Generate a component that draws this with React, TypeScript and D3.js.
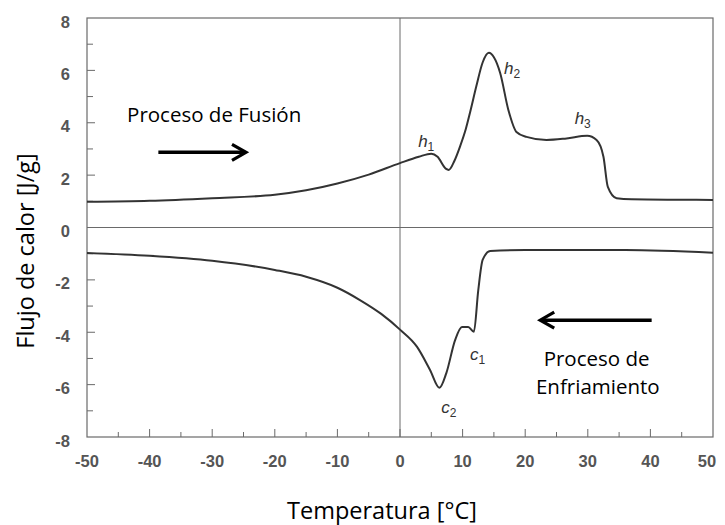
import { useRef, useEffect } from 'react';
import * as d3 from 'd3';

const W = 725;
const H = 525;
const MARGIN = { top: 18, right: 12, bottom: 88, left: 87 };

// Heating (fusion) curve
const heatT = [-50, -40, -30, -20, -15, -10, -5, 0, 3, 5, 6, 7.3, 7.8, 8.7, 9.6, 10.5, 11.2, 12.2, 13.2, 14.2, 15, 16, 17.3, 18.6, 20.2, 23.4, 26.6, 29.9, 31.4, 32.5, 33.2, 34.6, 37, 45, 50];
const heatQ = [0.98, 1.02, 1.12, 1.25, 1.42, 1.68, 2.02, 2.46, 2.7, 2.82, 2.7, 2.25, 2.2, 2.55, 3.1, 3.75, 4.4, 5.4, 6.3, 6.67, 6.5, 5.9, 4.5, 3.65, 3.46, 3.34, 3.4, 3.5, 3.34, 2.7, 1.55, 1.12, 1.08, 1.06, 1.05];

// Cooling curve
const coolT = [-50, -40, -30, -20, -15, -10, -6.4, -3, 0, 2.7, 4.8, 6.3, 7.4, 8.8, 9.9, 10.9, 11.8, 12.5, 13.2, 14.4, 20, 36, 50];
const coolQ = [-0.97, -1.08, -1.27, -1.62, -1.88, -2.3, -2.77, -3.3, -3.9, -4.55, -5.44, -6.12, -5.56, -4.3, -3.8, -3.8, -3.98, -2.4, -1.24, -0.9, -0.86, -0.86, -0.96];

const xTicks = [-50, -40, -30, -20, -10, 0, 10, 20, 30, 40, 50];
const yTicks = [-8, -6, -4, -2, 0, 2, 4, 6, 8];

// peak labels: [letter, subscript, T, Q]
const peakLabels: [string, string, number, number][] = [
  ['h', '1', 2.9, 3.07],
  ['h', '2', 16.6, 5.85],
  ['h', '3', 27.9, 3.95],
  ['c', '1', 11.2, -5.05],
  ['c', '2', 6.6, -7.1],
];

export default function App() {
  const svgRef = useRef<SVGSVGElement>(null);

  useEffect(() => {
    const svg = d3.select(svgRef.current);
    svg.selectAll('*').remove();

    const w = W - MARGIN.left - MARGIN.right;
    const h = H - MARGIN.top - MARGIN.bottom;
    const g = svg.append('g').attr('transform', `translate(${MARGIN.left},${MARGIN.top})`);

    const x = d3.scaleLinear().domain([-50, 50]).range([0, w]);
    const y = d3.scaleLinear().domain([-8, 8]).range([h, 0]);

    const frame = '#6a6a6a';

    // frame
    g.append('rect').attr('width', w).attr('height', h)
      .attr('fill', 'none').attr('stroke', frame).attr('stroke-width', 1.2);

    // zero lines
    g.append('line').attr('x1', 0).attr('x2', w).attr('y1', y(0)).attr('y2', y(0))
      .attr('stroke', frame).attr('stroke-width', 1);
    g.append('line').attr('x1', x(0)).attr('x2', x(0)).attr('y1', 0).attr('y2', h)
      .attr('stroke', frame).attr('stroke-width', 1);

    // inner ticks: left and bottom
    d3.range(-7, 8).forEach(v => {
      const major = v % 2 === 0;
      g.append('line').attr('x1', 0).attr('x2', major ? 8 : 6)
        .attr('y1', y(v)).attr('y2', y(v)).attr('stroke', frame).attr('stroke-width', 1);
    });
    d3.range(-45, 50, 5).forEach(v => {
      const major = v % 10 === 0;
      g.append('line').attr('x1', x(v)).attr('x2', x(v))
        .attr('y1', h).attr('y2', h - (major ? 8 : 5)).attr('stroke', frame).attr('stroke-width', 1);
    });

    // tick labels
    const tickFont = "'Liberation Sans', Arial, sans-serif";
    g.selectAll('.ylab').data(yTicks).join('text')
      .attr('x', -17).attr('y', d => y(d) + 9.5)
      .attr('text-anchor', 'end')
      .attr('font-family', tickFont).attr('font-size', 16.5).attr('font-weight', 'bold')
      .attr('fill', '#555')
      .text(d => d);
    g.selectAll('.xlab').data(xTicks).join('text')
      .attr('x', d => x(d) - (d === 50 ? 6 : 0)).attr('y', h + 30)
      .attr('text-anchor', 'middle')
      .attr('font-family', tickFont).attr('font-size', 16.5).attr('font-weight', 'bold')
      .attr('fill', '#555')
      .text(d => d);

    // curves
    const line = d3.line<[number, number]>()
      .x(d => x(d[0])).y(d => y(d[1]))
      .curve(d3.curveMonotoneX);
    const heat = heatT.map((t, i) => [t, heatQ[i]] as [number, number]);
    const cool = coolT.map((t, i) => [t, coolQ[i]] as [number, number]);
    [heat, cool].forEach(d => {
      g.append('path').datum(d).attr('d', line)
        .attr('fill', 'none').attr('stroke', '#333').attr('stroke-width', 2)
        .attr('stroke-linejoin', 'round');
    });

    // peak labels
    peakLabels.forEach(([s, sub, t, q]) => {
      const txt = g.append('text').attr('x', x(t)).attr('y', y(q))
        .attr('font-family', tickFont).attr('font-size', 17).attr('font-style', 'italic')
        .attr('fill', '#333');
      txt.append('tspan').text(s);
      txt.append('tspan').attr('dy', 4).attr('font-size', 12).attr('font-style', 'normal').text(sub);
    });

    // annotations
    const annFont = "'Open Sans', 'Noto Sans', sans-serif";
    g.append('text').attr('x', x(-43.6)).attr('y', y(4.03))
      .attr('font-family', annFont).attr('font-size', 20.5).attr('fill', '#000')
      .text('Proceso de Fusión');
    g.append('text').attr('x', x(31.4)).attr('y', y(-5.3))
      .attr('text-anchor', 'middle')
      .attr('font-family', annFont).attr('font-size', 20.5).attr('fill', '#000')
      .text('Proceso de');
    g.append('text').attr('x', x(31.6)).attr('y', y(-6.37))
      .attr('text-anchor', 'middle')
      .attr('font-family', annFont).attr('font-size', 20.5).attr('fill', '#000')
      .text('Enfriamiento');

    const arrow = (x1: number, x2: number, yy: number) => {
      const dir = Math.sign(x2 - x1);
      const px2 = x(x2);
      const py = y(yy);
      g.append('line').attr('x1', x(x1)).attr('x2', px2 - dir * 2).attr('y1', py).attr('y2', py)
        .attr('stroke', '#000').attr('stroke-width', 3.5);
      g.append('path')
        .attr('d', `M${px2 - dir * 14},${py - 8} L${px2},${py} L${px2 - dir * 14},${py + 8}`)
        .attr('fill', 'none').attr('stroke', '#000').attr('stroke-width', 3.2)
        .attr('stroke-linejoin', 'miter');
    };
    arrow(-38.6, -24.6, 2.87);
    arrow(40.2, 22.4, -3.54);

    // axis titles
    svg.append('text')
      .attr('transform', `translate(34,251) rotate(-90)`)
      .attr('text-anchor', 'middle')
      .attr('font-family', annFont).attr('font-size', 23.5).attr('fill', '#000')
      .text('Flujo de calor [J/g]');
    svg.append('text')
      .attr('x', 382).attr('y', 519)
      .attr('text-anchor', 'middle')
      .attr('font-family', annFont).attr('font-size', 23.5).attr('fill', '#000')
      .text('Temperatura [°C]');
  }, []);

  return (
    <svg ref={svgRef} width={W} height={H}
      style={{ position: 'absolute', left: 0, top: 0, background: '#fff' }} />
  );
}
